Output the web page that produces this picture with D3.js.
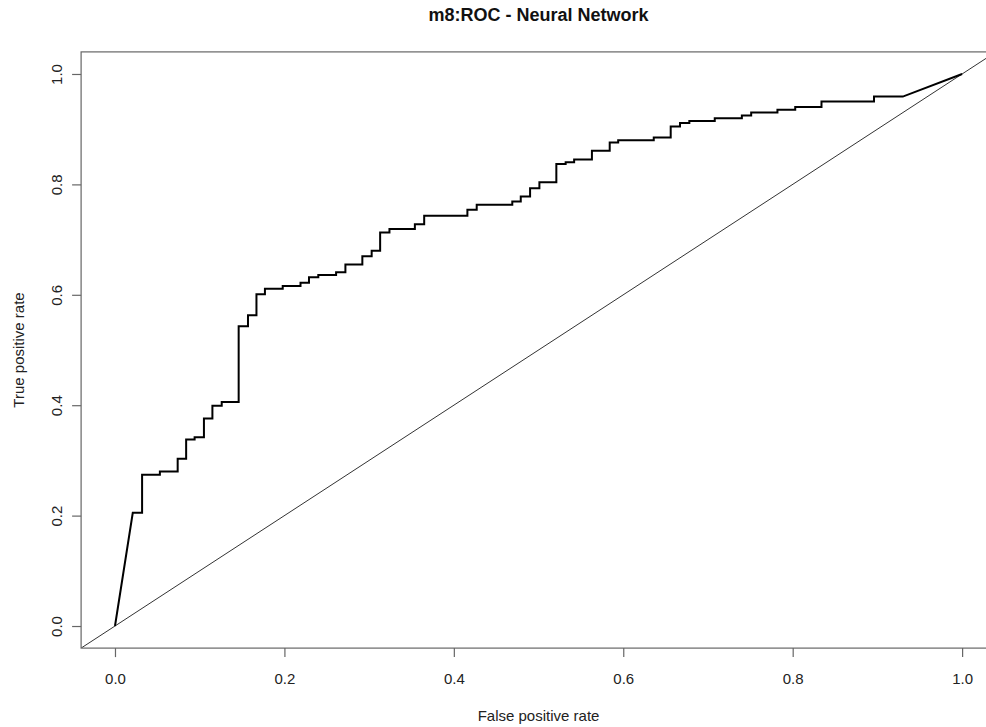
<!DOCTYPE html>
<html>
<head>
<meta charset="utf-8">
<script src="https://cdn.jsdelivr.net/npm/d3@7"></script>
<style>
  html, body { margin: 0; padding: 0; background: #fff; }
  svg { display: block; }
  text { font-family: "Liberation Sans", Arial, sans-serif; }
</style>
</head>
<body>
<svg id="chart" width="986" height="727"></svg>
<script>
const title = "m8:ROC - Neural Network";
const xLabel = "False positive rate";
const yLabel = "True positive rate";
const xTicks = [0, 0.2, 0.4, 0.6, 0.8, 1.0];
const yTicks = [0, 0.2, 0.4, 0.6, 0.8, 1.0];

// ROC curve vertices (false positive rate, true positive rate)
const fpr = [0, 0.021, 0.032, 0.032, 0.053, 0.053, 0.074, 0.074, 0.084, 0.084, 0.094, 0.094,
  0.105, 0.105, 0.115, 0.115, 0.126, 0.126, 0.146, 0.146, 0.157, 0.157, 0.167, 0.167,
  0.177, 0.177, 0.198, 0.198, 0.219, 0.219, 0.229, 0.229, 0.240, 0.240, 0.261, 0.261,
  0.272, 0.272, 0.292, 0.292, 0.303, 0.303, 0.313, 0.313, 0.324, 0.324, 0.354, 0.354,
  0.365, 0.365, 0.416, 0.416, 0.427, 0.427, 0.469, 0.469, 0.479, 0.479, 0.490, 0.490,
  0.501, 0.501, 0.521, 0.521, 0.532, 0.532, 0.542, 0.542, 0.563, 0.563, 0.584, 0.584,
  0.594, 0.594, 0.636, 0.636, 0.656, 0.656, 0.667, 0.667, 0.678, 0.678, 0.708, 0.708,
  0.740, 0.740, 0.751, 0.751, 0.782, 0.782, 0.803, 0.803, 0.834, 0.834, 0.896, 0.896,
  0.930, 1.0];
const tpr = [0, 0.205, 0.205, 0.274, 0.274, 0.280, 0.280, 0.303, 0.303, 0.338, 0.338, 0.342,
  0.342, 0.376, 0.376, 0.399, 0.399, 0.406, 0.406, 0.543, 0.543, 0.563, 0.563, 0.601,
  0.601, 0.611, 0.611, 0.616, 0.616, 0.622, 0.622, 0.632, 0.632, 0.636, 0.636, 0.641,
  0.641, 0.655, 0.655, 0.670, 0.670, 0.680, 0.680, 0.713, 0.713, 0.719, 0.719, 0.728,
  0.728, 0.743, 0.743, 0.754, 0.754, 0.763, 0.763, 0.769, 0.769, 0.778, 0.778, 0.793,
  0.793, 0.804, 0.804, 0.837, 0.837, 0.840, 0.840, 0.845, 0.845, 0.861, 0.861, 0.876,
  0.876, 0.880, 0.880, 0.885, 0.885, 0.905, 0.905, 0.911, 0.911, 0.915, 0.915, 0.920,
  0.920, 0.925, 0.925, 0.930, 0.930, 0.935, 0.935, 0.940, 0.940, 0.950, 0.950, 0.959,
  0.959, 1.0];

const svg = d3.select("#chart");
const x = d3.scaleLinear().domain([-0.04, 1.04]).range([81.1, 996.0]);
const y = d3.scaleLinear().domain([-0.04, 1.04]).range([648.1, 51.9]);

svg.append("defs").append("clipPath").attr("id", "plotclip")
  .append("rect")
  .attr("x", x(-0.04)).attr("y", y(1.04))
  .attr("width", x(1.04) - x(-0.04)).attr("height", y(-0.04) - y(1.04));

// diagonal reference line (abline 0,1)
svg.append("line")
  .attr("clip-path", "url(#plotclip)")
  .attr("x1", x(-0.04)).attr("y1", y(-0.04))
  .attr("x2", x(1.04)).attr("y2", y(1.04))
  .attr("stroke", "#333").attr("stroke-width", 1);

// ROC curve
const pts = fpr.map((f, i) => [f, tpr[i]]);
svg.append("path")
  .datum(pts)
  .attr("clip-path", "url(#plotclip)")
  .attr("fill", "none")
  .attr("stroke", "#000")
  .attr("stroke-width", 2)
  .attr("stroke-linejoin", "miter")
  .attr("d", d3.line().x(d => x(d[0])).y(d => y(d[1])));

// box
svg.append("rect")
  .attr("x", x(-0.04)).attr("y", y(1.04))
  .attr("width", x(1.04) - x(-0.04)).attr("height", y(-0.04) - y(1.04))
  .attr("fill", "none").attr("stroke", "#666").attr("stroke-width", 1.2);

// x axis
const gx = svg.append("g").attr("transform", `translate(0,${y(-0.04)})`)
  .call(d3.axisBottom(x).tickValues(xTicks).tickSize(9).tickFormat(d3.format(".1f")));
gx.select(".domain").remove();
gx.selectAll(".tick line").attr("stroke", "#666").attr("stroke-width", 1.2);
gx.selectAll(".tick text").attr("y", 36).attr("dy", 0)
  .attr("font-size", 15).attr("font-family", "Liberation Sans, Arial, sans-serif").attr("fill", "#222");

// y axis
const gy = svg.append("g").attr("transform", `translate(${x(-0.04)},0)`)
  .call(d3.axisLeft(y).tickValues(yTicks).tickSize(9).tickFormat(d3.format(".1f")));
gy.select(".domain").remove();
gy.selectAll(".tick line").attr("stroke", "#666").attr("stroke-width", 1.2);
gy.selectAll(".tick text")
  .attr("x", 0).attr("y", 0).attr("dy", 0)
  .attr("text-anchor", "middle")
  .attr("transform", "translate(-19,0) rotate(-90)")
  .attr("font-size", 15).attr("font-family", "Liberation Sans, Arial, sans-serif").attr("fill", "#222");

// title
svg.append("text")
  .attr("x", (x(-0.04) + x(1.04)) / 2).attr("y", 21)
  .attr("text-anchor", "middle")
  .attr("font-size", 18).attr("font-weight", "bold").attr("fill", "#111")
  .text(title);

// axis labels
svg.append("text")
  .attr("x", (x(-0.04) + x(1.04)) / 2).attr("y", 721)
  .attr("text-anchor", "middle")
  .attr("font-size", 15).attr("fill", "#222")
  .text(xLabel);

svg.append("text")
  .attr("transform", `translate(23.5,${(y(-0.04) + y(1.04)) / 2}) rotate(-90)`)
  .attr("text-anchor", "middle")
  .attr("font-size", 15).attr("fill", "#222")
  .text(yLabel);
</script>
</body>
</html>
